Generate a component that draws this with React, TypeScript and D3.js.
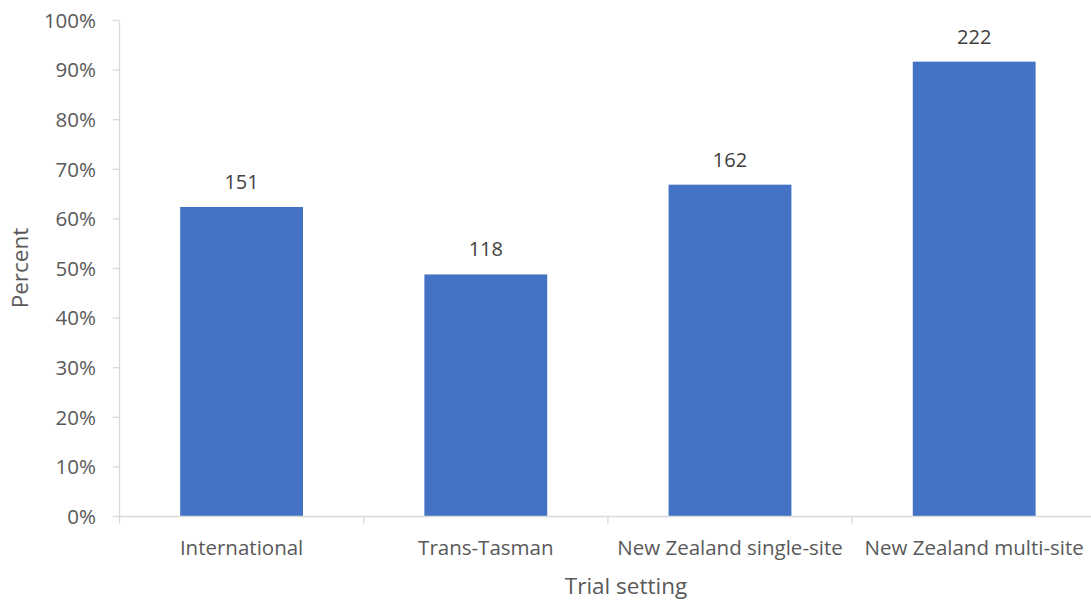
import React from 'react';
import * as d3 from 'd3';

const categories = ['International', 'Trans-Tasman', 'New Zealand single-site', 'New Zealand multi-site'];
const percents = [62.4, 48.8, 66.9, 91.7];
const counts = [151, 118, 162, 222];
const yTicks = [0, 10, 20, 30, 40, 50, 60, 70, 80, 90, 100];

const W = 1091;
const H = 601;
const FONT = "'Open Sans', sans-serif";

export default function App() {
    const x0 = 119.5;
    const step = 244.2;
    const xScale = d3.scaleBand<string>()
        .domain(categories)
        .range([x0, x0 + step * categories.length])
        .paddingInner(0.497)
        .paddingOuter(0.2485);

    const yScale = d3.scaleLinear().domain([0, 100]).range([516.5, 20.5]);

    const y0 = yScale(0);

    return (
        <svg width={W} height={H} style={{ position: 'absolute', left: 0, top: 0 }}>
            <rect width={W} height={H} fill="#ffffff" />
            {/* y axis */}
            <line x1={x0} x2={x0} y1={yScale(100)} y2={y0} stroke="#d9d9d9" strokeWidth={1.3} />
            {yTicks.map(t => (
                <g key={t}>
                    <line x1={x0 - 7} x2={x0} y1={yScale(t)} y2={yScale(t)} stroke="#d9d9d9" strokeWidth={1.3} />
                    <text x={96} y={yScale(t)} dy="0.36em" textAnchor="end" fontFamily={FONT} fontSize={20.5} fill="#595959">{t}%</text>
                </g>
            ))}
            {/* bars */}
            {categories.map((c, i) => (
                <g key={c}>
                    <rect x={xScale(c)} y={yScale(percents[i])} width={xScale.bandwidth()} height={y0 - yScale(percents[i])} fill="#4472c4" />
                    <text x={(xScale(c) ?? 0) + xScale.bandwidth() / 2} y={yScale(percents[i]) - 18} textAnchor="middle" fontFamily={FONT} fontSize={20} fill="#404040">{counts[i]}</text>
                    <text x={(xScale(c) ?? 0) + xScale.bandwidth() / 2} y={555} textAnchor="middle" fontFamily={FONT} fontSize={20.5} fill="#595959">{c}</text>
                </g>
            ))}
            {/* x axis */}
            <line x1={x0} x2={W} y1={y0} y2={y0} stroke="#d9d9d9" strokeWidth={1.3} />
            {categories.map((c, i) => (
                <line key={c} x1={x0 + step * i} x2={x0 + step * i} y1={y0} y2={y0 + 7} stroke="#d9d9d9" strokeWidth={1.3} />
            ))}
            <text transform={`translate(28,268) rotate(-90)`} textAnchor="middle" fontFamily={FONT} fontSize={22.5} fill="#595959">Percent</text>
            <text x={626} y={594} textAnchor="middle" fontFamily={FONT} fontSize={22.5} fill="#595959">Trial setting</text>
        </svg>
    );
}
